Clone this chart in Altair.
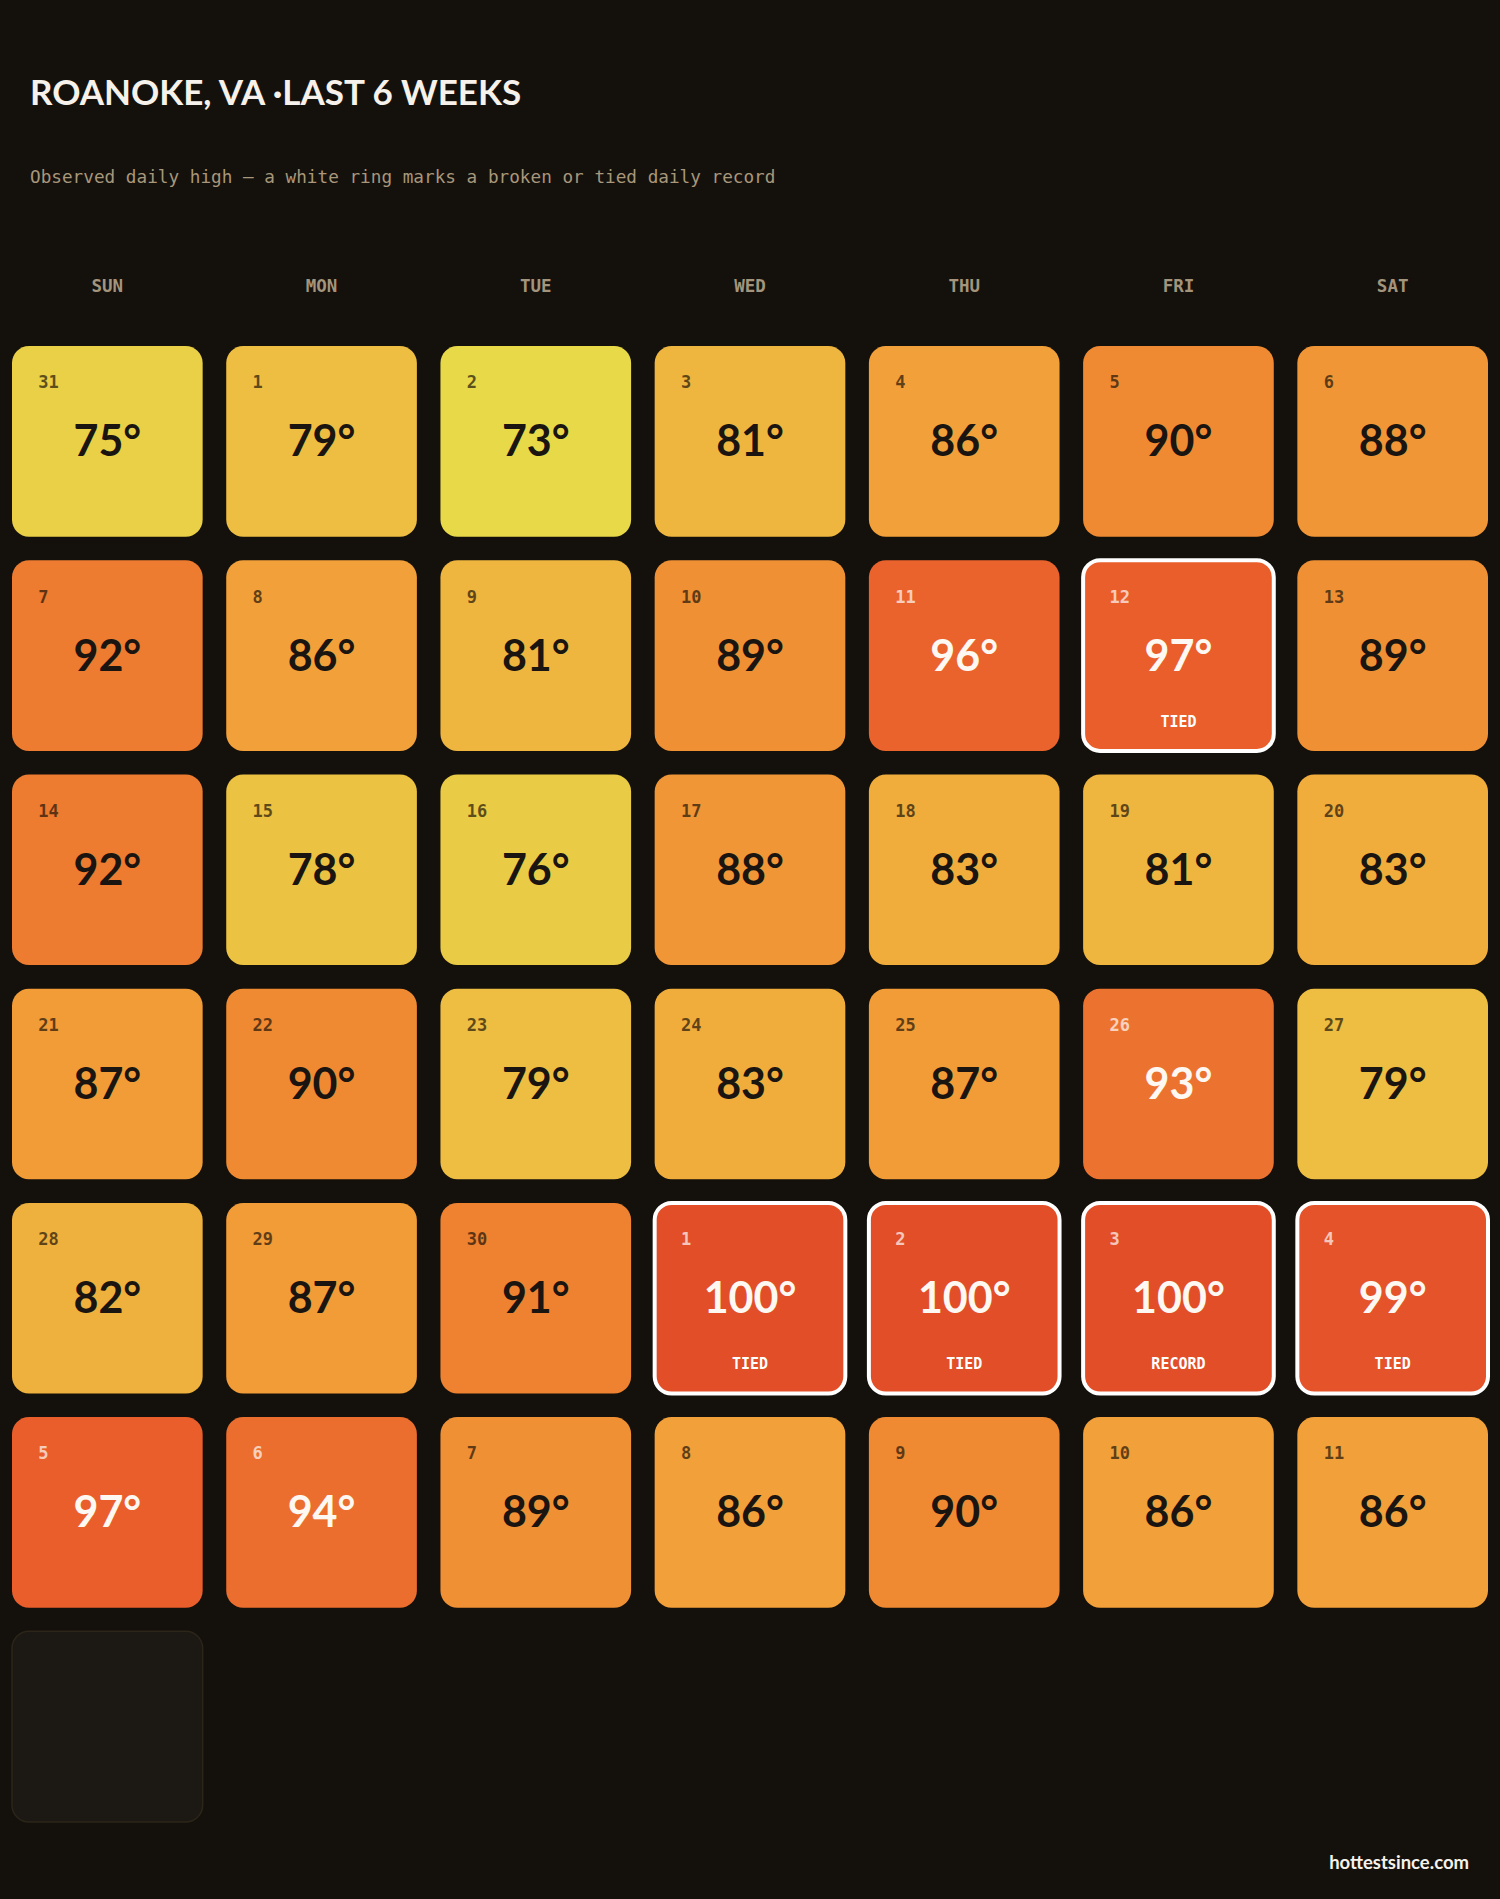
import altair as alt
import pandas as pd

# ---- data ----
title_text = "ROANOKE, VA ·LAST 6 WEEKS"
subtitle_text = "Observed daily high — a white ring marks a broken or tied daily record"
footer_text = "hottestsince.com"
weekdays = ["SUN", "MON", "TUE", "WED", "THU", "FRI", "SAT"]

day_numbers = [31, 1, 2, 3, 4, 5, 6,
               7, 8, 9, 10, 11, 12, 13,
               14, 15, 16, 17, 18, 19, 20,
               21, 22, 23, 24, 25, 26, 27,
               28, 29, 30, 1, 2, 3, 4,
               5, 6, 7, 8, 9, 10, 11]
highs = [75, 79, 73, 81, 86, 90, 88,
         92, 86, 81, 89, 96, 97, 89,
         92, 78, 76, 88, 83, 81, 83,
         87, 90, 79, 83, 87, 93, 79,
         82, 87, 91, 100, 100, 100, 99,
         97, 94, 89, 86, 90, 86, 86]
record_flags = ["", "", "", "", "", "", "",
                "", "", "", "", "", "TIED", "",
                "", "", "", "", "", "", "",
                "", "", "", "", "", "", "",
                "", "", "", "TIED", "TIED", "RECORD", "TIED",
                "", "", "", "", "", "", ""]
pending_slots = [42]  # calendar slot index of the not-yet-observed day

color_stops = [73, 76, 79, 83, 87, 90, 93, 97, 100]
color_range = ["#e8d948", "#eacb45", "#edbe41", "#f0ad3c", "#f29c38",
               "#ef8a32", "#ec732f", "#e95e2b", "#e14e28"]

# ---- tables ----
cells = pd.DataFrame({
    "slot": list(range(len(highs))),
    "day": [str(d) for d in day_numbers],
    "temp": highs,
    "flag": record_flags,
})
cells["col"] = cells["slot"] % 7
cells["row"] = cells["slot"] // 7
cells["label"] = cells["temp"].astype(str) + "°"

pending = pd.DataFrame({"slot": pending_slots})
pending["col"] = pending["slot"] % 7
pending["row"] = pending["slot"] // 7

headers = pd.DataFrame({"col": list(range(7)), "name": weekdays})

BG = "#14110d"
W = 1476
H = 1476
HOT = "datum.temp >= 93"
RADIUS = 17

xs = alt.X("col:O", scale=alt.Scale(domain=list(range(7)), paddingInner=0.11, paddingOuter=0), axis=None)
ys = alt.Y("row:O", scale=alt.Scale(domain=list(range(7)), paddingInner=0.11, paddingOuter=0), axis=None)

base = alt.Chart(cells)

tiles = base.mark_rect(cornerRadius=RADIUS).encode(
    x=xs, y=ys,
    color=alt.Color("temp:Q", scale=alt.Scale(domain=color_stops, range=color_range, interpolate="rgb"), legend=None),
)

rings = base.transform_filter("datum.flag != ''").mark_rect(
    cornerRadius=RADIUS, fillOpacity=0, stroke="#ffffff", strokeWidth=4
).encode(x=xs, y=ys)

empty_tile = alt.Chart(pending).mark_rect(
    cornerRadius=RADIUS, fill="#1c1813", stroke="#2c2519", strokeWidth=1.5
).encode(x=xs, y=ys)

day_text = base.mark_text(
    align="left", baseline="alphabetic", dx=-69, dy=-53,
    font="DejaVu Sans Mono", fontSize=17, fontWeight="bold", opacity=0.68
).encode(
    x=xs, y=ys, text="day:N",
    color=alt.condition(HOT, alt.value("#ffffff"), alt.value("#1a1208")),
)

temp_text = base.mark_text(
    align="center", baseline="alphabetic", dy=15,
    font="Lato", fontSize=43, fontWeight=700
).encode(
    x=xs, y=ys, text="label:N",
    color=alt.condition(HOT, alt.value("#fdf8f2"), alt.value("#1a1510")),
)

flag_text = base.transform_filter("datum.flag != ''").mark_text(
    align="center", baseline="alphabetic", dy=71,
    font="DejaVu Sans Mono", fontSize=15, fontWeight="bold", color="#ffffff"
).encode(x=xs, y=ys, text="flag:N")

header_text = alt.Chart(headers).mark_text(
    align="center", baseline="alphabetic",
    font="DejaVu Sans Mono", fontSize=17.5, fontWeight="bold", color="#a3947c"
).encode(x=xs, y=alt.value(-54), text="name:N")

title = alt.Chart(pd.DataFrame({"t": [title_text]})).mark_text(
    align="left", baseline="alphabetic", font="Lato", fontSize=35, fontWeight=700, color="#f6f1ea"
).encode(x=alt.value(18), y=alt.value(-241), text="t:N")

subtitle = alt.Chart(pd.DataFrame({"t": [subtitle_text]})).mark_text(
    align="left", baseline="alphabetic", font="DejaVu Sans Mono", fontSize=17.7, color="#a8977a"
).encode(x=alt.value(18), y=alt.value(-163), text="t:N")

footer = alt.Chart(pd.DataFrame({"t": [footer_text]})).mark_text(
    align="right", baseline="alphabetic", font="Lato", fontSize=18.5, fontWeight=700, color="#f6f1ea"
).encode(x=alt.value(1457), y=alt.value(1523), text="t:N")

chart = alt.layer(
    empty_tile, tiles, rings, day_text, temp_text, flag_text,
    header_text, title, subtitle, footer
).properties(
    width=W, height=H, background=BG,
    autosize=alt.AutoSizeParams(type="none"),
    padding={"left": 12, "top": 346, "right": 12, "bottom": 77},
).configure_view(stroke=None)

chart.save("out.html", embed_options={"renderer": "svg", "actions": False})
